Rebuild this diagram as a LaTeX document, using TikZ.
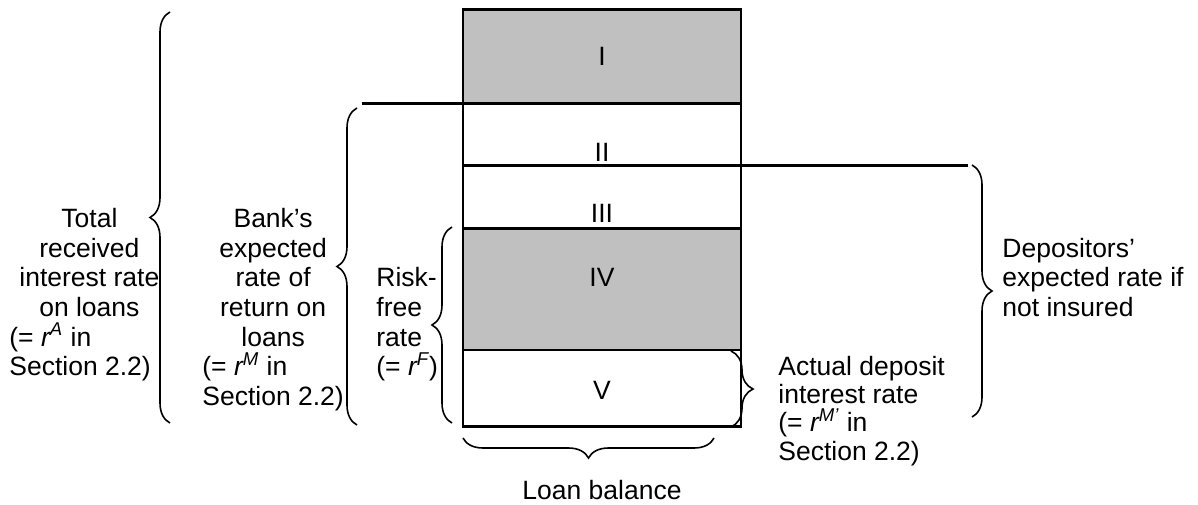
\documentclass[tikz,border=0pt]{standalone}
\usepackage{fontspec}
\setmainfont{Liberation Sans}
\usetikzlibrary{decorations.pathreplacing}
\definecolor{silver}{RGB}{192,192,192}
\newcommand\mkc[1]{\multicolumn{1}{@{}c@{}}{#1}}
\newcommand\mkw[1]{\makebox[80pt][c]{#1}}
\newcommand\rsup[1]{{\itshape r}\smash{\textsuperscript{\itshape #1}}}
\begin{document}
\begin{tikzpicture}[x=0.5pt,y=-0.5pt,
  font=\fontsize{13.25}{14.85}\selectfont,
  box/.style={line width=1.4pt},
  brc/.style={decorate,decoration={brace,amplitude=#1},line width=0.8pt},
  blk/.style={anchor=base west,inner sep=0pt},
  num/.style={inner sep=0pt}]
\useasboundingbox (0,0) rectangle (1198,504);
% bands
\fill[silver] (463,9.5) rectangle (741,103.5);
\fill[silver] (463,228.7) rectangle (741,350);
\draw[box] (463,9.5) rectangle (741,426.7);
\draw[box] (362,103.5) -- (741,103.5);
\draw[box] (463,165.7) -- (968,165.7);
\draw[box] (463,228.7) -- (741,228.7);
\draw[box] (463,350) -- (741,350);
% band labels
\node[num] (lI) at (602,56) {I};
\node[num] (lII) at (602,152) {II};
\node[num] (lIII) at (602,213) {III};
\node[num] (lIV) at (602,277) {IV};
\node[num] (lV) at (602,390) {V};
% braces
\draw[brc=10pt] (170,423) -- (170,12);
\draw[brc=10pt] (357,425) -- (357,108);
\draw[brc=10pt] (452,423) -- (452,227);
\draw[brc=10pt] (972,165) -- (972,417);
\draw[brc=11pt] (731,351) -- (731,427);
\draw[brc=10pt] (714,438) -- (463,438);
% texts
\node[blk] (tot) at (9,227.3) {\begin{tabular}[t]{@{}l@{}}\mkw{Total}\\ \mkw{received}\\ \mkw{interest rate}\\ \mkw{on loans}\\ (= \rsup{A} in\\ Section 2.2)\end{tabular}};
\node[blk] (bank) at (202,227.3) {\begin{tabular}[t]{@{}l@{}}\mkc{Bank’s}\\ \mkc{expected}\\ \mkc{rate of}\\ \mkc{return on}\\ \mkc{loans}\\ (= \rsup{M} in\\ Section 2.2)\end{tabular}};
\node[blk] (risk) at (376,286.7) {\begin{tabular}[t]{@{}l@{}}Risk-\\ free\\ rate\\ (= \rsup{F})\end{tabular}};
\node[blk] (dep) at (1002,257) {\begin{tabular}[t]{@{}l@{}}Depositors’\\ expected rate if\\ not insured\end{tabular}};
\node[blk] (act) at (778,375.5) {\renewcommand\arraystretch{0.95}\begin{tabular}[t]{@{}l@{}}Actual deposit\\ interest rate\\ (= \rsup{M’} in\\ Section 2.2)\end{tabular}};
\node[num] (loan) at (602,490) {Loan balance};
\end{tikzpicture}
\end{document}
